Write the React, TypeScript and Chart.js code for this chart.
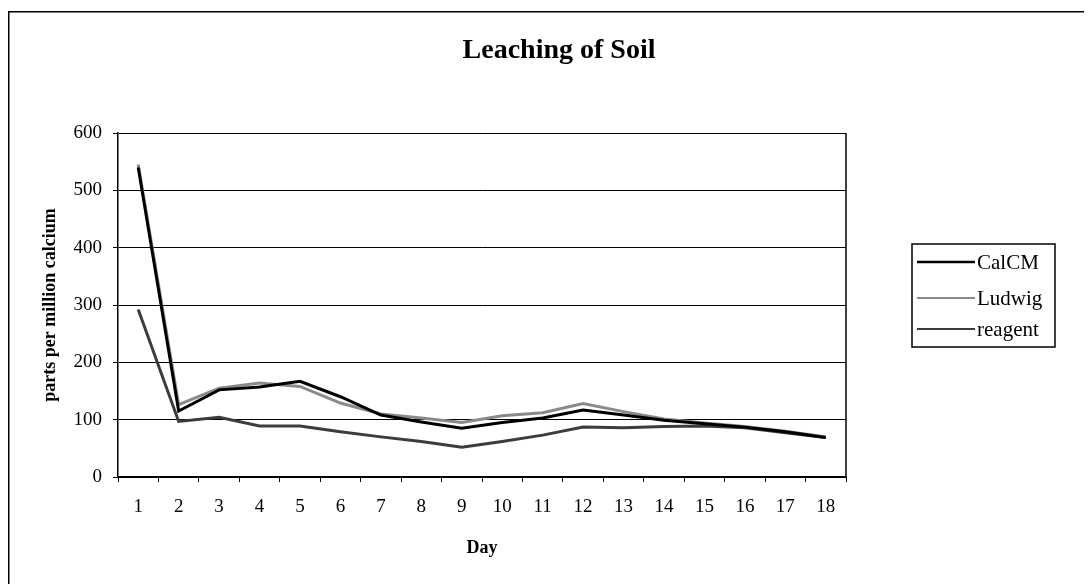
import React, { useEffect, useRef } from "react";
import { Chart, registerables } from "chart.js";

Chart.register(...registerables);

const days = ["1","2","3","4","5","6","7","8","9","10","11","12","13","14","15","16","17","18"];
const calcm = [540, 115, 152, 157, 167, 140, 108, 96, 85, 95, 103, 117, 108, 99, 93, 87, 79, 69];
const ludwig = [545, 126, 155, 164, 158, 129, 110, 103, 95, 107, 112, 128, 114, 101, 94, 88, 80, 70];
const reagent = [292, 97, 104, 89, 89, 79, 70, 62, 52, 62, 73, 87, 86, 88, 89, 86, 77, 69];
const yTicks = [0, 100, 200, 300, 400, 500, 600];

const seriesNames = ["CalCM", "Ludwig", "reagent"];
const seriesColors = ["#000000", "#8a8a8a", "#3c3c3c"];

const FONT = "'Liberation Serif', 'Times New Roman', serif";

const W = 1084;
const H = 576;

const decorPlugin = {
  id: "decor",
  afterDraw(chart: any) {
    const ctx = chart.ctx;
    const a = chart.chartArea;
    ctx.save();
    // outer border
    ctx.strokeStyle = "#000";
    ctx.lineWidth = 1.5;
    ctx.strokeRect(0.75, 3.75, W + 20, H + 20);
    // plot right border
    ctx.lineWidth = 1.5;
    ctx.beginPath();
    ctx.moveTo(a.right, a.top);
    ctx.lineTo(a.right, a.bottom);
    ctx.stroke();
    // title
    ctx.fillStyle = "#000";
    ctx.font = `bold 28px ${FONT}`;
    ctx.textAlign = "center";
    ctx.textBaseline = "alphabetic";
    ctx.fillText("Leaching of Soil", 551, 50);
    // x title
    ctx.font = `bold 18px ${FONT}`;
    ctx.textBaseline = "middle";
    ctx.fillText("Day", (a.left + a.right) / 2, 540);
    // y title
    ctx.save();
    ctx.translate(42, (a.top + a.bottom) / 2);
    ctx.rotate(-Math.PI / 2);
    ctx.fillText("parts per million calcium", 0, 0);
    ctx.restore();
    // legend
    const lx = 904, ly = 236, lw = 143, lh = 103;
    ctx.lineWidth = 1.5;
    ctx.strokeStyle = "#000";
    ctx.strokeRect(lx, ly, lw, lh);
    const rows = [254, 290, 321];
    ctx.font = `21px ${FONT}`;
    ctx.textAlign = "left";
    seriesNames.forEach((n, i) => {
      ctx.strokeStyle = seriesColors[i];
      ctx.lineWidth = i === 0 ? 2.5 : 2;
      ctx.beginPath();
      ctx.moveTo(lx + 5, rows[i]);
      ctx.lineTo(lx + 63, rows[i]);
      ctx.stroke();
      ctx.fillStyle = "#000";
      ctx.fillText(n, lx + 65, rows[i] + 1);
    });
    ctx.restore();
  },
};

export default function App() {
  const ref = useRef<HTMLCanvasElement>(null);
  useEffect(() => {
    if (!ref.current) return;
    const chart = new Chart(ref.current, {
      type: "line",
      data: {
        labels: days,
        datasets: [
          { label: seriesNames[0], data: calcm, borderColor: seriesColors[0], borderWidth: 3 },
          { label: seriesNames[1], data: ludwig, borderColor: seriesColors[1], borderWidth: 3 },
          { label: seriesNames[2], data: reagent, borderColor: seriesColors[2], borderWidth: 3 },
        ].map((d) => ({ ...d, pointRadius: 0, tension: 0, fill: false })),
      },
      options: {
        responsive: false,
        animation: false,
        layout: { padding: { left: 0, right: 246, top: 125, bottom: 0 } },
        plugins: { legend: { display: false }, title: { display: false }, tooltip: { enabled: false } },
        scales: {
          x: {
            type: "category",
            offset: true,
            afterFit: (s: any) => { s.height = 107; },
            grid: { offset: true, drawOnChartArea: false, drawTicks: true, tickLength: 5, color: "#000", lineWidth: 1 },
            border: { display: true, color: "#000", width: 1.5 },
            ticks: { color: "#000", font: { family: FONT, size: 19 }, padding: 14, maxRotation: 0, autoSkip: false },
          },
          y: {
            min: 0,
            max: 600,
            afterFit: (s: any) => { s.width = 110; },
            afterBuildTicks: (s: any) => { s.ticks = yTicks.map((v) => ({ value: v })); },
            grid: { drawTicks: true, tickLength: 5, color: "#000", lineWidth: 1 },
            border: { display: true, color: "#000", width: 1.5 },
            ticks: { color: "#000", font: { family: FONT, size: 19 }, padding: 11 },
          },
        },
      },
      plugins: [decorPlugin],
    });
    return () => chart.destroy();
  }, []);
  return (
    <div style={{ width: W, height: H }}>
      <canvas ref={ref} width={W} height={H} style={{ display: "block" }} />
    </div>
  );
}
